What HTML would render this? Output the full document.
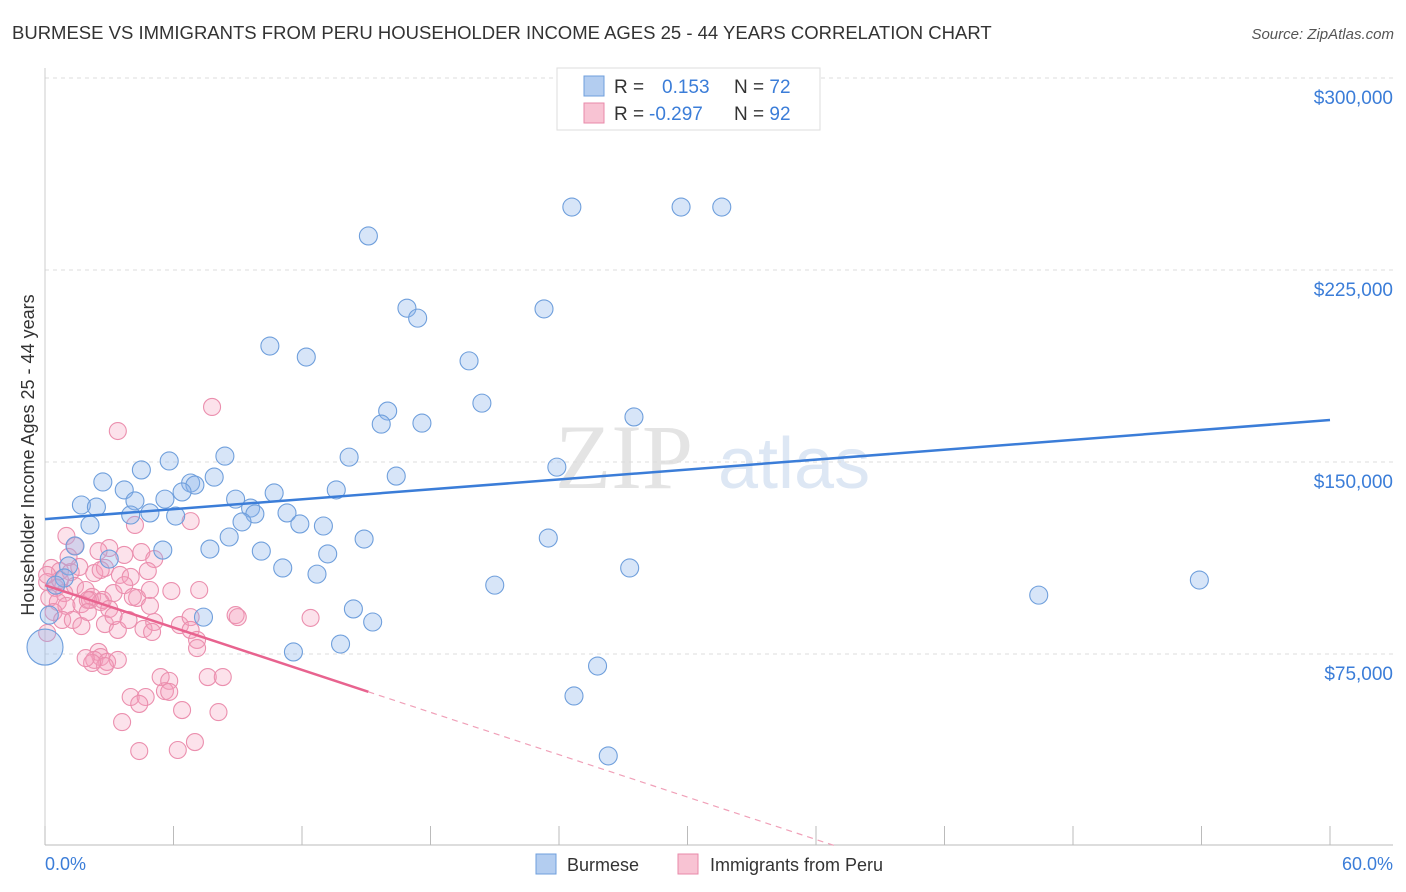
<!DOCTYPE html>
<html><head><meta charset="utf-8"><style>
body{margin:0;background:#fff;}
svg{display:block;font-family:"Liberation Sans",sans-serif;}
</style></head><body>
<svg id="chart" width="1406" height="892">
<text x="12" y="39" font-size="18.5" fill="#333">BURMESE VS IMMIGRANTS FROM PERU HOUSEHOLDER INCOME AGES 25 - 44 YEARS CORRELATION CHART</text>
<text x="1394" y="39" font-size="15" fill="#555" font-style="italic" text-anchor="end">Source: ZipAtlas.com</text>
<text x="555" y="488" font-size="92" fill="#e4e4e4" font-family="Liberation Serif,serif">ZIP</text>
<text x="718" y="488" font-size="72" fill="#dde7f4">atlas</text>
<g id="grid"></g><g id="axes"></g><g id="pinkpts"></g><g id="bluepts"></g><g id="lines"></g>
<text transform="translate(34,455) rotate(-90)" font-size="18" fill="#333" text-anchor="middle">Householder Income Ages 25 - 44 years</text>
<text x="45" y="870" font-size="18" fill="#3b7dd8">0.0%</text>
<text x="1393" y="870" font-size="18" fill="#3b7dd8" text-anchor="end">60.0%</text>
<g>
<rect x="557" y="68" width="263" height="62" fill="#fff" stroke="#ddd"/>
<rect x="584" y="76" width="20" height="20" fill="#b3cdf0" stroke="#6f9fdc"/>
<rect x="584" y="103" width="20" height="20" fill="#f8c3d3" stroke="#e88aa9"/>
<text x="614" y="93" font-size="19" fill="#333">R =  <tspan fill="#3b7dd8" x="662">0.153</tspan><tspan x="734">N = </tspan><tspan fill="#3b7dd8">72</tspan></text>
<text x="614" y="120" font-size="19" fill="#333">R = <tspan fill="#3b7dd8" x="649">-0.297</tspan><tspan x="734">N = </tspan><tspan fill="#3b7dd8">92</tspan></text>
</g>
<g>
<rect x="536" y="854" width="20" height="20" fill="#b3cdf0" stroke="#6f9fdc"/>
<text x="567" y="871" font-size="18" fill="#333">Burmese</text>
<rect x="678" y="854" width="20" height="20" fill="#f8c3d3" stroke="#e88aa9"/>
<text x="710" y="871" font-size="18" fill="#333">Immigrants from Peru</text>
</g>
</svg>
<script>
const yTicks=[75000,150000,225000,300000];
const yTickLabels=["$75,000","$150,000","$225,000","$300,000"];
const xTicks=[0,6,12,18,24,30,36,42,48,54,60];
const blueX=[24.6,29.7,31.6,15.1,16.9,17.4,23.3,10.5,12.2,19.8,20.4,16.0,15.7,17.6,27.5,8.4,5.8,14.2,4.5,7.9,23.9,16.4,2.7,6.8,7.0,3.7,6.4,10.7,13.6,1.7,2.4,4.2,5.6,8.9,9.6,4.9,6.1,4.0,11.3,9.8,9.2,11.9,2.1,13.0,8.6,14.9,23.5,1.4,5.5,7.7,10.1,13.2,3.0,1.1,0.9,11.1,12.7,27.3,53.9,21.0,46.4,14.4,15.3,7.4,0.2,13.8,11.6,25.8,24.7,26.3,0,0.5];
const blueY=[249.6,249.6,249.6,238.3,210.1,206.2,209.8,195.3,191.0,189.5,173.0,169.9,164.8,165.2,167.6,152.3,150.4,151.9,146.9,144.1,148.0,144.5,142.2,141.8,141.0,139.1,138.3,137.9,139.1,133.2,132.4,134.8,135.5,135.5,132.0,130.1,128.9,129.3,130.1,129.7,126.6,125.8,125.4,125.0,120.7,119.9,120.3,117.2,115.6,116.0,115.2,114.1,112.1,109.4,104.7,108.6,106.2,108.6,103.9,101.9,98.0,92.6,87.5,89.4,90.2,78.9,75.8,70.3,58.6,35.2,77.7,101.9];
const pinkX=[7.8,3.4,1.0,1.4,3.0,2.5,3.7,4.5,5.1,0.3,0.7,1.2,1.6,2.3,2.8,3.5,4.0,4.8,0.1,0.5,0.9,1.4,1.9,2.2,2.7,3.2,3.7,4.3,4.9,5.9,0.2,0.6,1.0,1.7,2.1,2.6,3.0,4.1,4.9,0.4,0.8,1.3,1.7,2.8,3.4,3.9,4.6,5.1,6.3,6.8,6.8,8.9,9.0,12.4,0.1,7.1,7.1,2.5,2.6,2.3,2.9,3.4,2.8,2.2,5.4,5.8,7.6,8.3,4.0,4.7,5.6,5.8,4.4,6.4,8.1,3.6,4.4,6.2,7.0,4.2,6.8,1.1,2.0,0.7,0.1,3.2,2.0,5.0,1.9,2.6,7.2];
const pinkY=[171.5,162.1,121.1,117.2,116.4,115.2,113.7,114.8,112.1,108.6,107.4,107.0,109.0,106.6,108.6,105.9,105.1,107.4,103.1,100.8,98.8,101.6,100.0,97.3,96.1,98.8,101.9,96.9,100.0,99.6,96.9,95.3,93.8,94.5,96.1,95.3,92.6,97.3,93.8,91.4,88.3,88.3,85.9,86.7,84.4,88.3,84.8,87.5,86.3,89.4,84.4,90.2,89.4,89.1,83.2,80.5,77.3,75.8,73.8,72.7,71.9,72.7,70.3,71.5,66.0,64.5,66.0,66.0,58.2,58.2,60.5,60.2,55.5,53.1,52.3,48.4,37.1,37.5,40.6,125.4,126.9,112.9,96.1,103.9,105.9,89.8,91.4,83.6,73.4,107.8,100.0];
const blueFit=[127.7,0.645];
const pinkFit=[101.9,-2.76];
const pinkSolidEnd=15.1;

const NS="http://www.w3.org/2000/svg";
const X=v=>45+v/60*1285;
const Y=k=>846-k/75*192;
function mk(tag,attrs,parent){const e=document.createElementNS(NS,tag);for(const a in attrs)e.setAttribute(a,attrs[a]);document.getElementById(parent).appendChild(e);return e;}
yTicks.forEach((t,i)=>{
  const g=mk('line',{x1:45,x2:1393,y1:Y(t/1000),y2:Y(t/1000),stroke:'#ddd','stroke-dasharray':'4,4'},'grid');
  
  
  const l=mk('text',{x:1393,y:Y(t/1000)+26,'font-size':19,fill:'#3b7dd8','text-anchor':'end'},'grid');
  l.textContent=yTickLabels[i];
  
  
});
const tg=mk('line',{x1:45,x2:1393,y1:78,y2:78,stroke:'#ddd','stroke-dasharray':'4,4'},'grid');


const ax=mk('line',{x1:45,x2:1393,y1:845,y2:845,stroke:'#bbb'},'axes');


const ay=mk('line',{x1:45,x2:45,y1:68,y2:845,stroke:'#ccc'},'axes');


xTicks.forEach(t=>{
  const e=mk('line',{x1:X(t),x2:X(t),y1:826,y2:845,stroke:'#bbb'},'axes');
  
  
});
pinkX.forEach((v,i)=>{
  const c=mk('circle',{cx:X(v),cy:Y(pinkY[i]),r:8.5,fill:'rgba(244,160,190,0.3)',stroke:'#eb8fae','stroke-width':1.1},'pinkpts');
  
  
});
blueX.forEach((v,i)=>{
  const r=(v===0&&blueY[i]<80)?18:9;
  const c=mk('circle',{cx:X(v),cy:Y(blueY[i]),r:r,fill:'rgba(140,180,235,0.35)',stroke:'#6f9fdc','stroke-width':1.1},'bluepts');
  
  
});
const bl=mk('line',{x1:X(0),y1:Y(blueFit[0]),x2:X(60),y2:Y(blueFit[0]+blueFit[1]*60),stroke:'#3b7dd8','stroke-width':2.5},'lines');


const pl=mk('line',{x1:X(0),y1:Y(pinkFit[0]),x2:X(pinkSolidEnd),y2:Y(pinkFit[0]+pinkFit[1]*pinkSolidEnd),stroke:'#e8638f','stroke-width':2.5},'lines');


const zeroX=-pinkFit[0]/pinkFit[1];
const pd=mk('line',{x1:X(pinkSolidEnd),y1:Y(pinkFit[0]+pinkFit[1]*pinkSolidEnd),x2:X(zeroX),y2:Y(0),stroke:'#f0a0b8','stroke-width':1.2,'stroke-dasharray':'6,5'},'lines');


</script>
</body></html>
